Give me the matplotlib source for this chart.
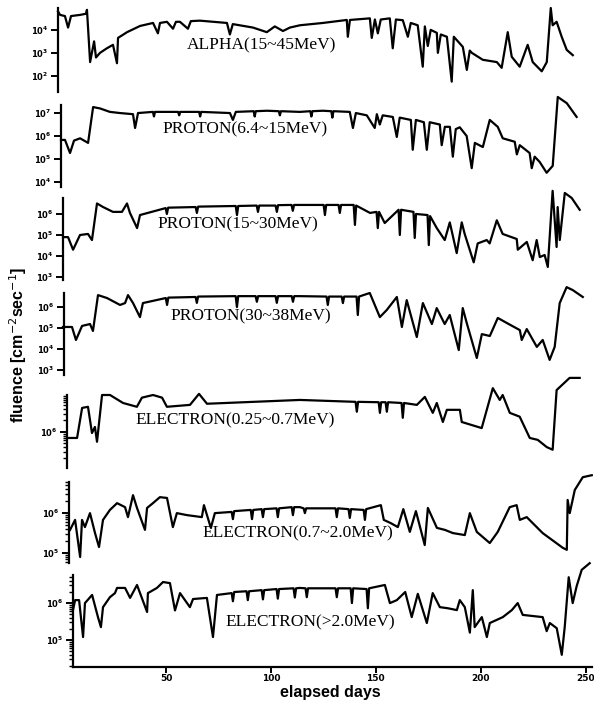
import numpy as np
import matplotlib
matplotlib.use("Agg")
import matplotlib.pyplot as plt
from matplotlib.ticker import LogLocator, NullFormatter, FixedLocator

# panel labels
labels = ["ALPHA(15~45MeV)", "PROTON(6.4~15MeV)", "PROTON(15~30MeV)",
          "PROTON(30~38MeV)", "ELECTRON(0.25~0.7MeV)",
          "ELECTRON(0.7~2.0MeV)", "ELECTRON(>2.0MeV)"]

# elapsed days and log10(fluence)
alpha_day = [5.7, 6.7, 9.0, 10.5, 11.9, 16.2, 19.0, 19.5, 21.0, 22.9, 23.8,
             25.7, 29.0, 31.9, 33.8, 34.3, 38.6, 44.8, 51.0, 53.3, 54.3, 57.6,
             60.5, 61.9, 63.8, 67.6, 69.0, 73.3, 86.2, 87.6, 89.0, 98.6, 105.2,
             109.0, 112.9, 116.2, 121.0, 131.9, 143.3, 143.8, 144.8, 154.3,
             155.2, 156.7, 158.1, 159.5, 163.8, 165.2, 166.7, 170.0, 172.4,
             173.8, 177.1, 179.5, 180.5, 181.9, 183.3, 186.2, 186.7, 188.1,
             191.0, 193.3, 194.3, 198.6, 200.5, 201.9, 202.9, 208.1, 214.8,
             217.1, 220.0, 221.9, 225.7, 229.5, 231.9, 236.2, 238.6, 240.5,
             241.4, 243.3, 245.7, 248.1, 251.0]
alpha_log = [4.8, 4.65, 4.6, 4.1, 4.6, 4.65, 4.7, 4.87, 2.6, 3.5, 2.8,
             3.0, 3.2, 3.35, 2.55, 3.65, 3.9, 4.17, 4.3, 3.85, 4.3, 4.35,
             4.05, 4.35, 4.35, 4.05, 4.38, 4.4, 4.3, 3.8, 4.25, 4.1, 3.9,
             4.15, 3.95, 4.1, 4.2, 4.3, 4.43, 3.7, 4.43, 4.5,
             3.65, 4.45, 3.85, 4.45, 4.5, 3.2, 4.45, 4.42, 3.7,
             4.3, 4.2, 2.4, 4.15, 3.3, 4.0, 3.87, 3.0, 3.8,
             3.7, 1.75, 3.7, 3.26, 2.26, 3.1, 3.0, 2.7, 2.6,
             2.35, 3.9, 2.83, 2.4, 3.35, 2.6, 2.2, 2.6, 4.95,
             4.2, 4.35, 3.7, 3.13, 2.9]

p1_day = [5.7, 7.6, 10.0, 11.9, 14.8, 18.6, 21.0, 24.3, 29.0, 33.8, 40.0,
          41.0, 42.4, 49.5, 50.0, 50.5, 56.2, 61.5, 62.0, 62.5, 71.5, 72.0,
          72.5, 86.2, 87.6, 89.0, 97.5, 98.0, 98.5, 103.8, 109.5, 110.0,
          110.5, 119.5, 124.5, 125.0, 125.5, 130.5, 134.5, 135.0, 135.5,
          143.3, 144.8, 146.2, 151.4, 155.2, 156.2, 157.6, 159.0, 163.8,
          165.7, 167.1, 172.4, 173.3, 174.8, 178.6, 180.0, 181.4, 186.2,
          187.1, 188.6, 191.0, 192.4, 193.8, 195.7, 199.0, 201.4, 202.9,
          206.7, 210.0, 213.8, 216.2, 221.9, 222.9, 224.3, 229.0, 230.0,
          231.4, 233.8, 237.1, 240.0, 242.4, 246.7, 251.4]
p1_log = [5.83, 5.83, 5.26, 5.8, 5.9, 5.7, 7.26, 7.2, 7.05, 7.0, 6.95,
          6.35, 7.0, 7.05, 6.85, 7.05, 7.05, 7.05, 6.9, 7.05, 7.05, 6.85,
          7.05, 7.0, 6.7, 7.05, 7.08, 6.85, 7.08, 7.1, 7.08, 6.9,
          7.08, 7.05, 7.08, 6.85, 7.08, 7.1, 7.08, 6.8, 7.08,
          7.05, 6.35, 7.0, 6.9, 6.35, 6.95, 6.5, 6.9, 6.83,
          5.96, 6.8, 6.7, 5.4, 6.7, 6.6, 5.4, 6.6, 6.5,
          5.6, 6.4, 6.4, 5.1, 6.3, 6.38, 6.0, 4.6, 5.7,
          5.52, 6.7, 6.4, 5.9, 5.75, 5.2, 5.6, 5.26, 4.6,
          5.1, 4.87, 4.4, 4.7, 7.7, 7.43, 6.83]

p2_day = [5.7, 8.1, 10.5, 13.8, 17.6, 19.5, 21.9, 24.8, 29.5, 33.8, 36.2,
          37.6, 41.0, 42.4, 54.6, 55.2, 55.8, 68.9, 69.5, 70.1, 88.0, 88.6,
          89.2, 98.0, 98.6, 99.2, 107.0, 107.6, 108.2, 114.6, 115.2, 115.8,
          118.6, 129.9, 130.5, 131.1, 137.0, 137.6, 138.2, 144.2, 144.8,
          145.4, 152.0, 155.1, 155.7, 156.3, 159.0, 165.6, 166.2, 166.8,
          172.7, 173.3, 173.9, 179.4, 180.0, 180.6, 183.8, 187.6, 190.0,
          193.3, 195.7, 197.1, 201.4, 203.3, 207.6, 209.0, 212.4, 215.2,
          221.9, 222.4, 226.7, 229.5, 231.4, 232.9, 235.2, 236.7, 239.0,
          240.9, 241.4, 242.4, 244.8, 248.1, 251.9]
p2_log = [4.9, 4.9, 4.3, 5.0, 5.05, 4.76, 6.5, 6.33, 6.1, 6.1, 6.5,
          6.05, 5.33, 5.95, 6.28, 6.0, 6.3, 6.33, 6.05, 6.35, 6.38, 5.95,
          6.38, 6.4, 6.1, 6.4, 6.4, 6.1, 6.42, 6.43, 6.15, 6.43,
          6.43, 6.43, 5.95, 6.43, 6.43, 6.05, 6.43, 6.43, 5.48,
          6.4, 6.05, 6.1, 5.33, 6.1, 5.57, 6.2, 5.0, 6.2,
          6.1, 4.86, 6.0, 5.95, 4.52, 5.9, 5.33, 4.76, 5.6,
          4.14, 5.6, 5.05, 3.7, 4.6, 4.76, 4.6, 5.7, 5.05,
          4.81, 4.3, 4.67, 3.8, 4.76, 3.95, 4.05, 3.48, 7.1,
          4.43, 6.33, 4.76, 7.0, 6.76, 6.2]

p3_day = [5.2, 9.5, 11.4, 14.3, 18.1, 19.5, 21.9, 26.2, 32.4, 34.8, 36.2,
          38.6, 41.9, 43.3, 54.2, 54.8, 55.4, 68.4, 69.0, 69.6, 87.5, 88.1,
          88.7, 97.0, 97.6, 98.2, 106.5, 107.1, 107.7, 114.2, 114.8, 115.4,
          118.1, 130.8, 131.4, 132.0, 138.0, 138.6, 139.2, 145.1, 145.7,
          146.3, 151.4, 156.2, 159.5, 164.3, 166.7, 169.0, 173.8, 176.7,
          181.0, 183.3, 187.1, 189.5, 193.8, 195.7, 197.6, 202.4, 204.8,
          208.6, 212.4, 216.7, 222.9, 223.8, 226.2, 231.0, 233.8, 237.1,
          239.5, 241.9, 245.2, 248.1, 252.9]
p3_log = [5.05, 5.05, 4.43, 5.1, 5.19, 4.86, 6.57, 6.43, 6.1, 6.19, 6.57,
          6.19, 5.52, 6.19, 6.43, 6.1, 6.45, 6.48, 6.2, 6.5, 6.52, 6.0,
          6.52, 6.52, 6.25, 6.52, 6.52, 6.2, 6.52, 6.52, 6.25, 6.52,
          6.52, 6.5, 6.1, 6.5, 6.5, 6.19, 6.5, 6.5, 5.62,
          6.5, 6.67, 5.52, 5.86, 6.48, 5.05, 6.33, 4.57, 6.19,
          5.19, 5.95, 5.19, 5.62, 3.95, 5.95, 5.24, 3.57, 4.71,
          4.62, 5.48, 5.24, 4.9, 4.43, 4.95, 4.1, 4.43, 3.48,
          4.1, 6.19, 6.95, 6.81, 6.48]

e1_day = [5.7, 10.5, 12.9, 15.7, 17.6, 19.0, 20.0, 22.4, 26.2, 32.4, 39.0,
          41.4, 46.7, 51.0, 53.3, 64.3, 68.6, 72.4, 116.7, 143.2, 143.8,
          144.4, 154.2, 154.8, 155.4, 157.5, 158.1, 158.7, 165.1, 165.7,
          166.3, 172.4, 176.2, 180.0, 181.9, 184.8, 186.7, 189.5, 192.9,
          193.8, 203.3, 208.6, 211.9, 213.3, 216.7, 221.4, 226.2, 230.0,
          234.3, 237.1, 239.0, 245.2, 250.0]
e1_log = [5.84, 5.84, 6.63, 6.66, 5.97, 6.13, 5.74, 6.97, 6.97, 6.76, 6.66,
          6.9, 6.97, 6.9, 6.66, 6.71, 7.0, 6.74, 6.84, 6.79, 6.53,
          6.79, 6.78, 6.5, 6.78, 6.78, 6.53, 6.78, 6.76, 6.37,
          6.76, 6.71, 6.92, 6.5, 6.76, 6.26, 6.58, 6.58, 6.58,
          6.26, 6.1, 7.15, 6.84, 6.97, 6.5, 6.4, 5.84, 5.79,
          5.6, 5.53, 7.1, 7.42, 7.42]

e2_day = [6.2, 8.6, 11.0, 11.9, 13.3, 15.7, 18.1, 20.0, 21.9, 25.2, 28.6,
          32.4, 33.8, 36.2, 38.1, 41.9, 42.9, 45.7, 49.0, 52.4, 55.2, 57.1,
          61.9, 69.0, 70.0, 73.3, 75.2, 83.2, 83.8, 84.4, 92.3, 92.9, 93.5,
          97.5, 98.1, 98.7, 104.6, 105.2, 105.8, 111.8, 112.4, 113.0, 115.7,
          117.5, 118.1, 118.7, 132.7, 133.3, 133.9, 138.9, 139.5, 140.1,
          146.1, 146.7, 147.3, 154.3, 155.7, 159.0, 162.4, 165.0, 168.1,
          171.0, 175.2, 176.7, 181.0, 184.8, 188.6, 194.3, 196.7, 200.0,
          206.2, 210.0, 215.7, 219.0, 220.5, 223.8, 231.4, 241.0, 242.9,
          243.3, 244.3, 246.7, 250.5, 254.8]
e2_log = [5.58, 5.83, 4.9, 5.83, 5.65, 6.0, 5.5, 5.15, 5.83, 6.08, 6.25,
          6.15, 5.9, 6.45, 6.13, 5.58, 6.13, 6.25, 6.4, 6.38, 5.65, 6.0,
          5.95, 5.9, 6.2, 5.63, 6.0, 6.03, 5.85, 6.05, 6.08, 5.85, 6.08,
          6.1, 5.9, 6.1, 6.12, 5.9, 6.12, 6.15, 5.95, 6.15, 6.15,
          6.12, 6.0, 6.12, 6.12, 5.9, 6.12, 6.1, 5.88, 6.1,
          6.08, 5.83, 6.1, 6.2, 5.83, 5.75, 5.65, 6.1, 5.53,
          6.05, 5.2, 6.13, 5.63, 5.58, 5.5, 5.45, 6.0, 5.53,
          5.25, 5.53, 6.15, 6.2, 5.83, 5.9, 5.5, 5.13, 5.08,
          6.33, 6.0, 6.58, 6.9, 6.95]

e3_day = [5.7, 6.7, 8.6, 10.5, 11.4, 14.8, 17.6, 19.0, 20.0, 23.3, 25.7,
          26.7, 30.5, 32.9, 36.2, 41.0, 41.4, 45.7, 48.6, 51.9, 54.3, 56.7,
          61.4, 62.9, 69.5, 72.4, 74.3, 81.3, 81.9, 82.5, 88.4, 89.0, 89.6,
          95.6, 96.2, 96.8, 102.7, 103.3, 103.9, 110.8, 111.4, 112.0, 113.8,
          116.5, 117.1, 117.7, 130.8, 131.4, 132.0, 138.0, 138.6, 139.2,
          145.6, 146.2, 146.8, 154.3, 156.7, 160.0, 164.0, 167.1, 170.0,
          174.3, 177.1, 180.5, 184.3, 188.6, 190.0, 192.4, 194.8, 196.2,
          197.1, 200.5, 202.9, 204.3, 210.5, 214.8, 217.6, 220.0, 229.5,
          231.4, 232.9, 236.2, 238.6, 240.0, 241.9, 243.8, 245.7, 248.1,
          251.9]
e3_log = [5.81, 6.08, 6.08, 5.08, 6.0, 6.22, 5.62, 5.35, 5.89, 6.16, 6.27,
          6.41, 6.41, 6.14, 6.49, 5.76, 6.27, 6.41, 6.57, 6.54, 5.8, 6.27,
          5.89, 6.11, 6.14, 5.08, 6.22, 6.27, 6.05, 6.3, 6.32, 6.08, 6.32,
          6.35, 6.1, 6.35, 6.38, 6.12, 6.38, 6.4, 6.15, 6.4, 6.41,
          6.4, 6.16, 6.4, 6.4, 6.16, 6.4, 6.4, 6.0, 6.4,
          6.38, 5.86, 6.4, 6.49, 6.0, 6.08, 6.3, 5.62, 6.25,
          5.46, 6.27, 5.89, 5.86, 5.81, 6.08, 5.89, 5.2, 6.35,
          5.35, 5.62, 5.08, 5.46, 5.62, 5.81, 6.0, 5.68, 5.62,
          5.24, 5.46, 5.32, 4.6, 5.35, 6.7, 6.0, 6.46, 6.9,
          7.08]

days = [alpha_day, p1_day, p2_day, p3_day, e1_day, e2_day, e3_day]
logs = [alpha_log, p1_log, p2_log, p3_log, e1_log, e2_log, e3_log]

# y-axis exponent ranges and the labelled decades for each panel
ylims = [(1.3, 4.95), (3.78, 7.35), (2.86, 6.76), (2.76, 6.67),
         (5.05, 6.97), (4.75, 6.78), (4.27, 6.76)]
yticks = [[2, 3, 4], [4, 5, 6, 7], [3, 4, 5, 6], [3, 4, 5, 6],
          [6], [5, 6], [5, 6]]
minor_on = [False, False, False, False, True, True, True]

# pixel boxes of the panels in the scan: left, top, bottom
W, H = 594, 704
boxes = [(58, 8, 92), (61, 105, 187), (63, 198, 280), (64, 293, 375),
         (67, 395, 468), (69, 482, 563), (73, 575, 667)]
panel_w = 519
label_xy = [(262, 45), (245, 129), (238, 224), (251, 316), (235, 420),
            (298, 533), (310, 622)]

fig = plt.figure(figsize=(W / 100, H / 100), dpi=100)

for i in range(7):
    left, top, bottom = boxes[i]
    ax = fig.add_axes([left / W, 1 - bottom / H, panel_w / W,
                       (bottom - top) / H])
    ax.set_facecolor("none")
    d = np.array(days[i])
    v = 10 ** np.array(logs[i])
    ax.plot(d, v, color="black", lw=1.6, clip_on=False)
    ax.set_yscale("log")
    ax.set_ylim(10 ** ylims[i][0], 10 ** ylims[i][1])
    ax.set_xlim(5.7, 253)
    for s in ["top", "right", "bottom"]:
        ax.spines[s].set_visible(False)
    ax.spines["left"].set_linewidth(1.6)
    ax.yaxis.set_major_locator(FixedLocator([10 ** t for t in yticks[i]]))
    ax.set_yticklabels([r"$\mathbf{10^{%d}}$" % t for t in yticks[i]],
                       fontsize=6)
    if minor_on[i]:
        ax.yaxis.set_minor_locator(LogLocator(base=10, subs=np.arange(2, 10)))
    else:
        ax.yaxis.set_minor_locator(FixedLocator([]))
    ax.yaxis.set_minor_formatter(NullFormatter())
    ax.tick_params(axis="y", which="major", direction="out", length=5,
                   width=1.4, pad=2)
    ax.tick_params(axis="y", which="minor", direction="out", length=3,
                   width=1.0)
    if i == 6:
        ax.spines["bottom"].set_visible(True)
        ax.spines["bottom"].set_linewidth(1.6)
        ax.set_xticks([50, 100, 150, 200, 250])
        ax.set_xticklabels(["50", "100", "150", "200", "250"], fontsize=6.5,
                           fontweight="bold")
        ax.tick_params(axis="x", direction="out", length=4, width=1.4, pad=1)
    else:
        ax.set_xticks([])
    fig.text(label_xy[i][0] / W, 1 - label_xy[i][1] / H, labels[i],
             family="Liberation Serif", fontsize=12.5, ha="center",
             va="center")

fig.text(18 / W, 1 - 345 / H, r"fluence [cm$^{-2}$sec$^{-1}$]",
         family="Liberation Sans", fontsize=11.5, fontweight="bold",
         rotation=90, ha="center", va="center")
fig.text(330 / W, 1 - 693 / H, "elapsed days", family="Liberation Sans",
         fontsize=11.5, fontweight="bold", ha="center", va="center")

fig.savefig("out.png", dpi=100)
